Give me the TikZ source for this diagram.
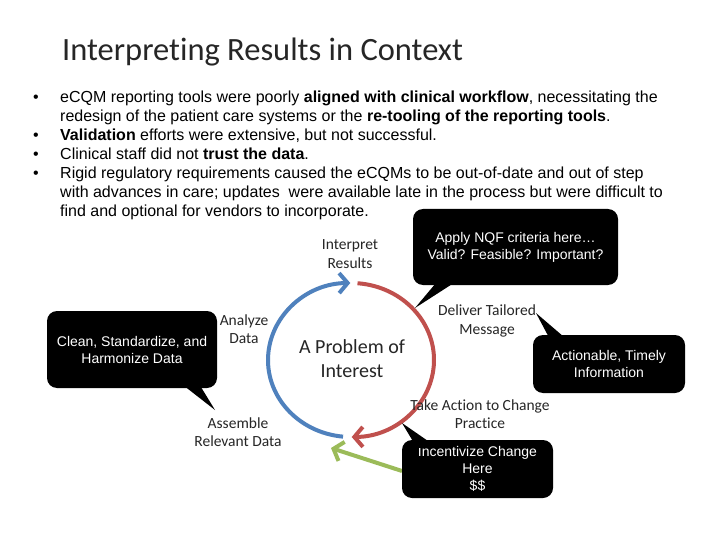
\documentclass[tikz,border=0pt]{standalone}
\usepackage{fontspec}
\setmainfont{Liberation Sans}
\newfontfamily\calib[Ligatures=NoCommon]{Carlito}
\usetikzlibrary{arrows.meta,calc}
\definecolor{cblue}{HTML}{4F81BD}
\definecolor{cred}{HTML}{C0504D}
\definecolor{cgreen}{HTML}{9BBB59}
\definecolor{lbl}{HTML}{262626}
\begin{document}
\begin{tikzpicture}[x=1pt,y=-1pt,
  bul/.style={anchor=base west, inner sep=0pt, font=\fontsize{16}{19}\selectfont},
  dotb/.style={anchor=base, inner sep=0pt, font=\fontsize{16}{19}\selectfont},
  lab/.style={align=center, inner sep=0pt, text=lbl, font=\calib\fontsize{15.5}{18.5}\selectfont},
  callout/.style={fill=black, rounded corners=10pt, text=white, align=center,
    font=\fontsize{14}{17}\selectfont, inner sep=0pt},
  ring/.style={line width=4pt, -{Straight Barb[length=8.5pt,width=20pt]}},
  ptr/.style={fill=black}]
\useasboundingbox (0,0) rectangle (720,540);
\fill[white] (0,0) rectangle (720,540);

% title
\node[anchor=base west, inner sep=0pt, text=lbl, font=\calib\fontsize{32.5}{36}\selectfont] (title) at (62,61) {Interpreting Results in Context};

% bullets
\node[dotb] (d1) at (36,103) {\textbullet};
\node[dotb] (d2) at (36,141) {\textbullet};
\node[dotb] (d3) at (36,160) {\textbullet};
\node[dotb] (d4) at (36,179) {\textbullet};
\node[bul] (l1) at (60,103) {eCQM reporting tools were poorly \textbf{aligned with clinical workflow}, necessitating the};
\node[bul] (l2) at (60,122) {redesign of the patient care systems or the \textbf{re-tooling of the reporting tools}.};
\node[bul] (l3) at (60,141) {\textbf{Validation} efforts were extensive, but not successful.};
\node[bul] (l4) at (60,160) {Clinical staff did not \textbf{trust the data}.};
\node[bul] (l5) at (60,179) {Rigid regulatory requirements caused the eCQMs to be out-of-date and out of step};
\node[bul] (l6) at (60,198) {with advances in care; updates\ \ were available late in the process but were difficult to};
\node[bul] (l7) at (60,217) {find and optional for vendors to incorporate.};

% cycle
\coordinate (c) at (351,360);
\draw[ring, cblue] (c) ++(264.5:83pt and 77pt) arc[start angle=264.5, end angle=90.5, x radius=83pt, y radius=77pt];
\draw[ring, cred] (c) ++(85.5:83pt and 77pt) arc[start angle=85.5, end angle=-89.5, x radius=83pt, y radius=77pt];
\coordinate (gtail) at (402,471);
\coordinate (ghead) at (331,448);
\draw[ring, cgreen] (gtail) -- (ghead);

% labels
\node[lab] (interp) at (350,254) {Interpret\\Results};
\node[lab] (analyze) at (244,329) {Analyze\\Data};
\node[lab] (deliver) at (487,321) {Deliver Tailored\\Message};
\node[lab] (take) at (480,414) {Take Action to Change\\Practice};
\node[lab] (assemble) at (238,432) {Assemble\\Relevant Data};
\node[align=center, inner sep=0pt, text=lbl, font=\calib\fontsize{20}{24}\selectfont] (prob) at (352,359) {A Problem of\\Interest};

% callouts
\node[callout, minimum width=205pt, minimum height=76pt] (nqf) at (515.5,247) {Apply NQF criteria here\dots\\Valid? Feasible? Important?};
\coordinate (nqftip) at (415,308);
\fill[ptr] ($(nqf.south west)+(28,-8)$) -- (nqftip) -- ($(nqf.south west)+(50,-8)$) -- cycle;

\node[callout, minimum width=152pt, minimum height=58pt] (act) at (609,364) {Actionable, Timely\\Information};
\coordinate (acttip) at (536,313);
\fill[ptr] ($(act.north west)+(19,8)$) -- (acttip) -- ($(act.north west)+(38,8)$) -- cycle;

\node[callout, minimum width=170pt, minimum height=77pt] (clean) at (132,349.5) {Clean, Standardize, and\\Harmonize Data};
\coordinate (cleantip) at (215,410);
\fill[ptr] ($(clean.south west)+(130,-8)$) -- (cleantip) -- ($(clean.south west)+(150,-8)$) -- cycle;

\node[callout, minimum width=151pt, minimum height=58pt] (inc) at (477.5,469) {Incentivize Change\\Here\\\$\$};
\coordinate (inctip) at (402,423);
\fill[ptr] ($(inc.north west)+(15,8)$) -- (inctip) -- ($(inc.north west)+(36,8)$) -- cycle;
\end{tikzpicture}
\end{document}
